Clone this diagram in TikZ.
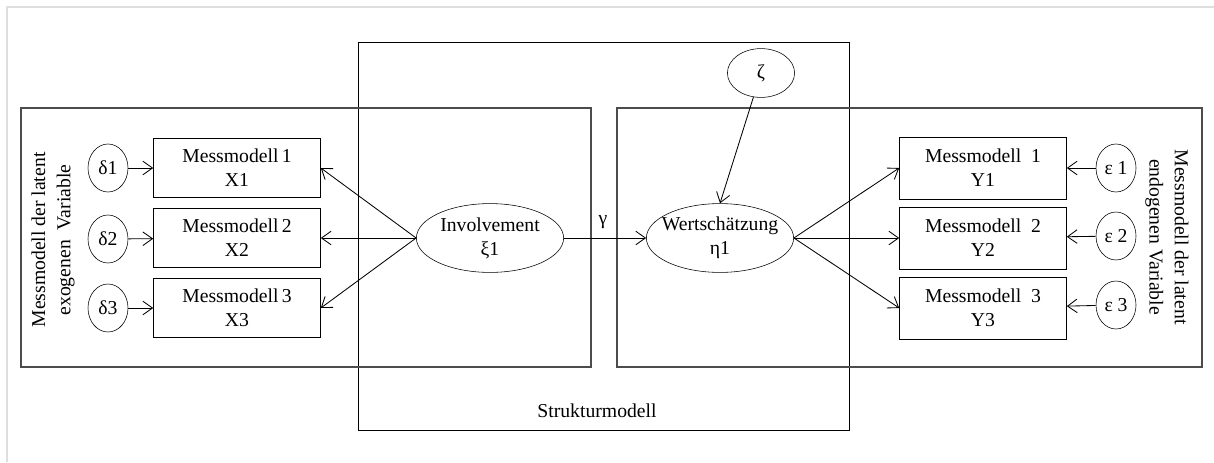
\documentclass[tikz,border=0pt]{standalone}
\usepackage{fontspec}
\setmainfont{Liberation Serif}
\usetikzlibrary{arrows.meta,shapes.geometric}

\tikzset{
  mbox/.style={draw, rectangle, minimum width=4.175cm, minimum height=1.48cm, align=center, inner sep=1pt},
  ybox/.style={mbox, minimum height=1.55cm},
  err/.style={draw, ellipse, minimum width=1cm, minimum height=1.2cm, inner sep=0pt},
  lat/.style={draw, ellipse, minimum width=3.68cm, minimum height=1.72cm, align=center, inner xsep=-0.22cm, inner ysep=0pt},
  pfeil/.style={-{Straight Barb[length=2.4mm,width=3.4mm]}, line width=0.6pt},
  rahmen/.style={draw=black!70, line width=0.9pt},
}

\begin{document}
\begin{tikzpicture}[x=0.025cm, y=-0.025cm, font=\fontsize{14}{17}\selectfont]
\useasboundingbox (0,0) rectangle (1214,462);
% Seitenrand
\draw[black!13, line width=1.3pt] (7,462) -- (7,7) -- (1214,7);

% Strukturmodell und die beiden Messmodelle
\draw[line width=0.7pt] (358,42) rectangle (849,430);
\draw[rahmen] (21,108) rectangle (591,367);
\draw[rahmen] (617,108) rectangle (1202,367);
\node (struk) at (597,411) {Strukturmodell};
\node[rotate=90, align=center] (exo) at (53,240) {Messmodell der latent\\[1pt]exogenen\enspace Variable};
\node[rotate=-90, align=center] (endo) at (1167,237) {Messmodell der latent\\[1pt]endogenen Variable};

% exogene Seite
\node[mbox] (x1) at (237,168) {Messmodell\,1\\X1};
\node[mbox] (x2) at (237,238) {Messmodell\,2\\X2};
\node[mbox] (x3) at (237,308) {Messmodell\,3\\X3};
\node[err] (d1) at (108,168) {δ1};
\node[err] (d2) at (108,239) {δ2};
\node[err] (d3) at (108,308) {δ3};

% latente Variablen
\node[lat] (inv) at (490,238) {Involvement\\ξ1};
\node[lat] (wert) at (720,238) {Wertschätzung\\η1};
\node[draw, ellipse, minimum width=1.68cm, minimum height=1.22cm] (zeta) at (761,73) {ζ};
\node (gamma) at (603,222) {γ};

% endogene Seite
\node[ybox] (y1) at (983,168) {Messmodell\enspace 1\\Y1};
\node[ybox] (y2) at (983,238) {Messmodell\enspace 2\\Y2};
\node[ybox] (y3) at (983,308) {Messmodell\enspace 3\\Y3};
\node[err] (e1) at (1116,168) {ε 1};
\node[err] (e2) at (1116,236) {ε 2};
\node[err] (e3) at (1116,305) {ε 3};

% Pfeile
\foreach \i in {1,2,3} {
  \draw[pfeil] (d\i) -- (x\i);
  \draw[pfeil] (inv.west) -- (x\i.east);
  \draw[pfeil] (wert.east) -- (y\i.west);
  \draw[pfeil] (e\i) -- (y\i);
}
\draw[pfeil] (inv) -- (wert);
\draw[pfeil] (zeta) -- (wert.north);
\end{tikzpicture}
\end{document}
